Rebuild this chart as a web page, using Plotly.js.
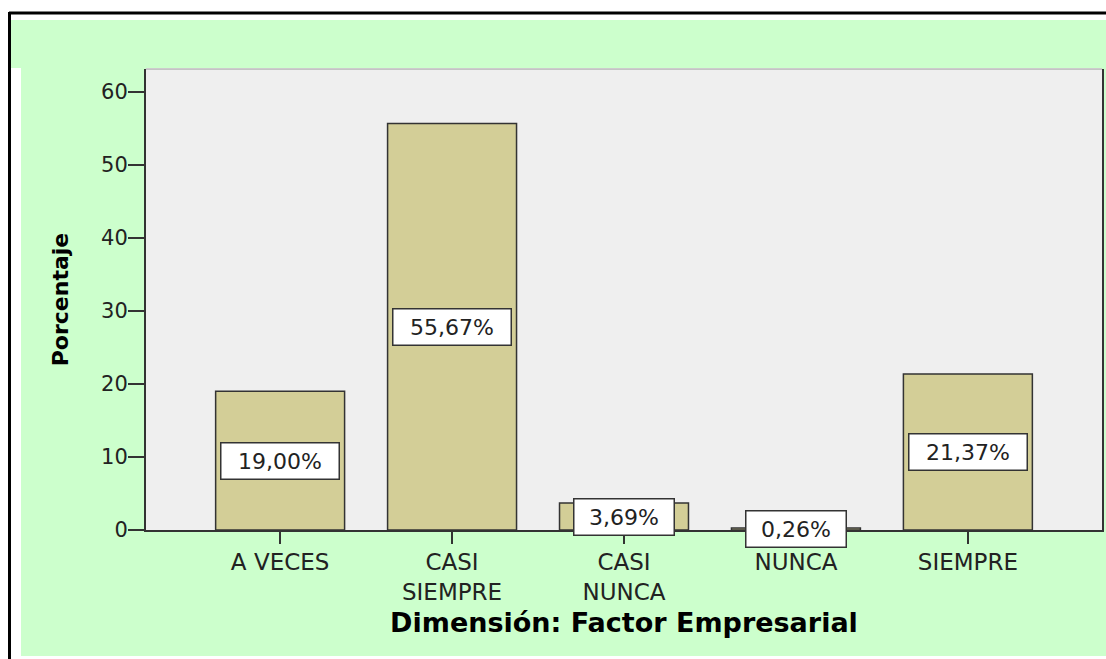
<!DOCTYPE html>
<html>
<head>
<meta charset="utf-8">
<script src="https://cdn.plot.ly/plotly-3.0.1.min.js"></script>
<style>html,body{margin:0;padding:0;background:#fff;}#chart{width:1106px;height:659px;}</style>
</head>
<body>
<div id="chart"></div>
<script>
// Data
const categories = ['A VECES', 'CASI SIEMPRE', 'CASI NUNCA', 'NUNCA', 'SIEMPRE'];
const tickLabels = ['A VECES', 'CASI<br>SIEMPRE', 'CASI<br>NUNCA', 'NUNCA', 'SIEMPRE'];
const percentages = [19.00, 55.67, 3.69, 0.26, 21.37];
const yTickValues = [0, 10, 20, 30, 40, 50, 60];
const xTitle = 'Dimensión: Factor Empresarial';
const yTitle = 'Porcentaje';

// Layout geometry (pixels)
const W = 1106, H = 659;
const plotL = 146, plotR = 1102, plotT = 69, plotB = 530;
const px = v => (v - plotL) / (plotR - plotL);
const py = v => (plotB - v) / (plotB - plotT);

const green = '#ccffcc';
const dark = '#333333';

const labels = percentages.map(v => v.toFixed(2).replace('.', ',') + '%');

const trace = {
  type: 'bar',
  x: categories,
  y: percentages,
  width: 0.75,
  marker: {color: '#d3ce97', line: {color: dark, width: 1.5}},
  hoverinfo: 'x+y',
  showlegend: false
};

const annotations = categories.map((c, i) => ({
  x: c, y: percentages[i] / 2, xref: 'x', yref: 'y',
  text: labels[i], showarrow: false,
  font: {family: 'DejaVu Sans', size: 22, color: '#222'},
  bgcolor: '#ffffff', bordercolor: dark, borderwidth: 1.5,
  borderpad: 5, width: labels[i].length * 17.8,
  xanchor: 'center', yanchor: 'middle'
}));

function rect(x0, y0, x1, y1, color) {
  return {type: 'rect', xref: 'paper', yref: 'paper', layer: 'below',
    x0: px(x0), x1: px(x1), y0: py(y0), y1: py(y1),
    fillcolor: color, line: {width: 0}};
}
function line(x0, y0, x1, y1, color, width) {
  return {type: 'line', xref: 'paper', yref: 'paper', layer: 'above',
    x0: px(x0), x1: px(x1), y0: py(y0), y1: py(y1),
    line: {color: color, width: width}};
}

const shapes = [
  rect(10, 20, W, 68, green),
  rect(21, 68, plotL, 656, green),
  rect(plotL, plotB, W, 656, green),
  rect(plotR, 68, W, plotB, green),
  line(9, 13, W, 13, '#000', 3),
  line(9.5, 12, 9.5, H, '#000', 3),
  line(plotL, plotT, plotR, plotT, '#999', 1)
];

const layout = {
  width: W, height: H,
  margin: {l: plotL, r: W - plotR, t: plotT, b: H - plotB, pad: 0},
  paper_bgcolor: '#ffffff',
  plot_bgcolor: '#efefef',
  font: {family: 'DejaVu Sans', color: '#222'},
  bargap: 0.25,
  xaxis: {
    type: 'category',
    range: [-0.78, 4.78],
    tickmode: 'array', tickvals: categories, ticktext: tickLabels,
    ticks: 'outside', ticklen: 12, tickwidth: 2, tickcolor: dark,
    tickfont: {family: 'DejaVu Sans', size: 23, color: '#222'},
    ticklabelstandoff: -2,
    showline: true, linecolor: dark, linewidth: 2,
    showgrid: false, zeroline: false, fixedrange: true, automargin: false,
    title: {text: xTitle, font: {family: 'DejaVu Sans', size: 27, color: '#000', weight: 'bold'}, standoff: 10}
  },
  yaxis: {
    range: [0, 63.15],
    tickmode: 'array', tickvals: yTickValues,
    ticks: 'outside', ticklen: 16, tickwidth: 2, tickcolor: dark,
    tickfont: {family: 'DejaVu Sans', size: 21, color: '#222'},
    ticklabelstandoff: -4,
    showline: true, mirror: true, linecolor: dark, linewidth: 2,
    showgrid: false, zeroline: false, fixedrange: true, automargin: false,
    title: {text: yTitle, font: {family: 'DejaVu Sans', size: 22, color: '#000', weight: 'bold'}, standoff: 26}
  },
  annotations: annotations,
  shapes: shapes
};

Plotly.newPlot('chart', [trace], layout, {displayModeBar: false, staticPlot: false});
</script>
</body>
</html>
